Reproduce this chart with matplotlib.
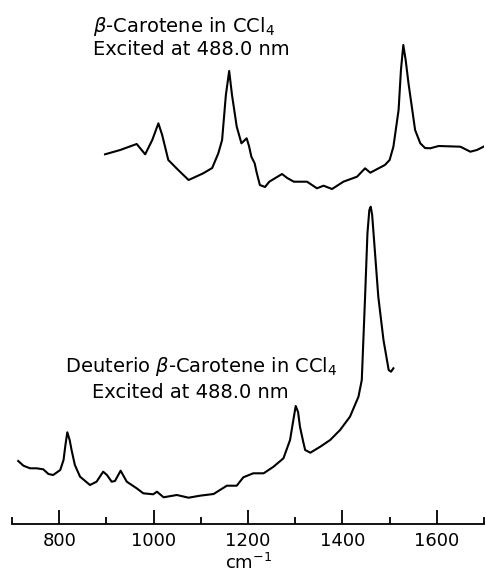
import matplotlib
matplotlib.use("Agg")
import matplotlib.pyplot as plt

# Wavenumber (cm^-1) and relative intensity (arbitrary units) for each spectrum
top_wn = [897, 929, 964, 982, 997, 1010, 1018, 1031, 1052, 1074, 1088, 1105, 1124, 1137,
          1145, 1153, 1160, 1166, 1176, 1186, 1197, 1202, 1207, 1214, 1218, 1225, 1236,
          1245, 1272, 1283, 1297, 1325, 1346, 1360, 1378, 1402, 1431, 1448, 1459, 1490,
          1500, 1508, 1519, 1524, 1529, 1534, 1540, 1554, 1565, 1575, 1586, 1604, 1650,
          1671, 1685, 1699]
top_int = [35.7, 40, 46, 35.7, 50, 66.7, 55, 30, 20, 10, 13, 16.7, 22, 36.7,
           50, 95, 119, 95, 63.3, 46.7, 51.7, 44, 33.3, 26.7, 18, 5, 3,
           8.3, 16, 12, 8.3, 8.3, 1.7, 4.3, 1, 8.3, 13.3, 21.7, 17.3, 25,
           30, 43.3, 80, 120, 145, 130, 106.7, 60, 46.7, 42, 41.7, 44, 43.3,
           38.3, 40, 43.3]

bot_wn = [713, 724, 738, 752, 766, 777, 787, 802, 809, 813, 817, 822, 826, 833, 844,
          865, 879, 893, 901, 911, 918, 930, 943, 964, 978, 999, 1007, 1021, 1049,
          1074, 1098, 1127, 1155, 1176, 1190, 1211, 1233, 1254, 1275, 1289, 1296,
          1301, 1306, 1310, 1317, 1321, 1332, 1353, 1374, 1395, 1416, 1434, 1441,
          1448, 1453, 1457, 1460, 1463, 1467, 1476, 1487, 1498, 1503, 1508]
bot_int = [37, 32.3, 29.7, 29.7, 28.7, 24, 23, 28, 38, 53, 65.7, 58, 48, 33, 21.3,
           13, 16.3, 26.3, 23, 16.3, 17, 27.3, 16.3, 9.7, 4.7, 3.7, 6.3, 0.7, 3,
           0.3, 2.3, 4, 12.3, 12.3, 20.7, 24.7, 24.7, 31.3, 39.7, 58, 78,
           92, 86, 71.3, 56, 48, 45.3, 51.3, 58, 68, 81.3, 101.3, 118,
           201.3, 264.7, 288, 291.3, 283, 258, 201.3, 158, 128, 126.3, 129.7]

top_label = ["$\\beta$-Carotene in CCl$_4$", "Excited at 488.0 nm"]
bot_label = ["Deuterio $\\beta$-Carotene in CCl$_4$", "Excited at 488.0 nm"]
major_ticks = [800, 1000, 1200, 1400, 1600]
minor_ticks = [700, 900, 1100, 1300, 1500, 1700]

top_offset = 334
bot_offset = 26

fig = plt.figure(figsize=(4.86, 5.76), dpi=100)
ax = fig.add_axes([12.1 / 486, 52 / 576, 471.9 / 486, 524 / 576])
ax.set_xlim(700, 1700)
ax.set_ylim(0, 524)

ax.plot(top_wn, [v + top_offset for v in top_int], color="black", lw=1.5,
        solid_joinstyle="round")
ax.plot(bot_wn, [v + bot_offset for v in bot_int], color="black", lw=1.5,
        solid_joinstyle="round")

fs = 14
ax.text(872, 492, top_label[0], fontsize=fs, va="baseline", ha="left")
ax.text(872, 469, top_label[1], fontsize=fs, va="baseline", ha="left")
ax.text(812, 152, bot_label[0], fontsize=fs, va="baseline", ha="left")
ax.text(869, 126, bot_label[1], fontsize=fs, va="baseline", ha="left")

for s in ["left", "right", "top"]:
    ax.spines[s].set_visible(False)
ax.spines["bottom"].set_linewidth(1.3)
ax.set_yticks([])
ax.set_xticks(major_ticks)
ax.set_xticks(minor_ticks, minor=True)
ax.tick_params(axis="x", which="major", direction="in", length=10, width=1.3,
               labelsize=13, pad=6)
ax.tick_params(axis="x", which="minor", direction="in", length=5, width=1.3)
ax.set_xlabel("cm$^{-1}$", fontsize=13, labelpad=2)

fig.savefig("out.png", dpi=100)
